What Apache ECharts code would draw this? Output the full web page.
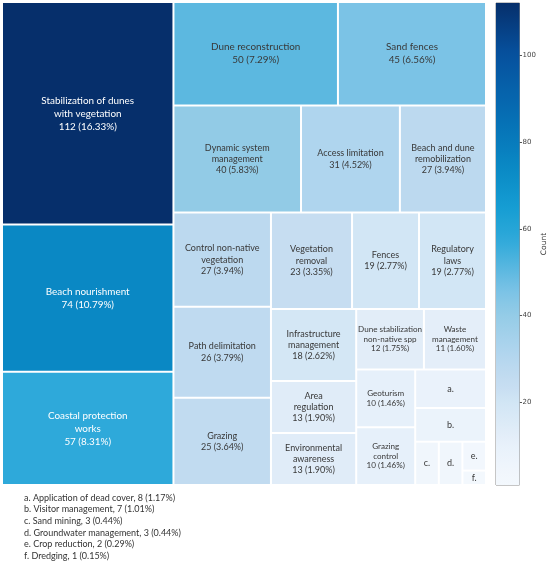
<!DOCTYPE html>
<html><head><meta charset="utf-8">
<script src="https://cdn.jsdelivr.net/npm/echarts@6/dist/echarts.min.js"></script>
<style>html,body{margin:0;padding:0;background:#fff}#c{width:550px;height:564px}</style>
</head><body><div id="c"></div>
<script>
// ---------- data ----------
const categories = [
  'Stabilization of dunes\nwith vegetation', 'Beach nourishment', 'Coastal protection\nworks',
  'Dune reconstruction', 'Sand fences',
  'Dynamic system\nmanagement', 'Access limitation', 'Beach and dune\nremobilization',
  'Control non-native\nvegetation', 'Vegetation\nremoval', 'Fences', 'Regulatory\nlaws',
  'Path delimitation', 'Grazing',
  'Infrastructure\nmanagement', 'Area\nregulation', 'Environmental\nawareness',
  'Dune stabilization\nnon-native spp', 'Waste\nmanagement',
  'Geoturism', 'Grazing\ncontrol',
  'Application of dead cover', 'Visitor management', 'Sand mining',
  'Groundwater management', 'Crop reduction', 'Dredging'
];
const counts = [112, 74, 57, 50, 45, 40, 31, 27, 27, 23, 19, 19, 26, 25, 18, 13, 13, 12, 11, 10, 10, 8, 7, 3, 3, 2, 1];
const percents = ['16.33', '10.79', '8.31', '7.29', '6.56', '5.83', '4.52', '3.94', '3.94', '3.35', '2.77', '2.77',
  '3.79', '3.64', '2.62', '1.90', '1.90', '1.75', '1.60', '1.46', '1.46', '1.17', '1.01', '0.44', '0.44', '0.29', '0.15'];
const footnoteKeys = ['a', 'b', 'c', 'd', 'e', 'f'];
const footnoteIndex = [21, 22, 23, 24, 25, 26];
const colorbarRange = [1, 112];
const colorbarTicks = [20, 40, 60, 80, 100];
// grouping of the tiles (indices into the arrays above)
const nesting = [0, 1, 2, 3, 4, 5, 6, 7,
  [[8, 12, 13],
   [[9, 10, 11], [14, 15, 16], [17, 18, [19, 20, [21, 22, [23, 24, [25, 26]]]]]]]];

// ---------- colour scale ----------
const colorStops = [
  [1, '#f3f8fd'], [8, '#eaf2fb'], [12, '#e2edf8'], [19, '#d2e6f5'], [23, '#c6ddf1'],
  [27, '#bcd9ef'], [31, '#afd5ee'], [40, '#92cbe6'], [45, '#7bc3e6'], [50, '#5cb8e0'],
  [57, '#2ea9da'], [65, '#149cd2'], [74, '#0a88c4'], [85, '#0670b5'],
  [100, '#06519e'], [112, '#062f6b']
];
function hex2rgb(h) { return [1, 3, 5].map(k => parseInt(h.substr(k, 2), 16)); }
function colorFor(v) {
  if (v <= colorStops[0][0]) return colorStops[0][1];
  for (let i = 1; i < colorStops.length; i++) {
    if (v <= colorStops[i][0]) {
      const [v0, c0] = colorStops[i - 1], [v1, c1] = colorStops[i];
      const t = (v - v0) / (v1 - v0);
      const a = hex2rgb(c0), b = hex2rgb(c1);
      return 'rgb(' + a.map((x, k) => Math.round(x + (b[k] - x) * t)).join(',') + ')';
    }
  }
  return colorStops[colorStops.length - 1][1];
}

const fontClasses = { large: [9.9, 13], medium: [9.0, 11.3], small: [8.1, 9.6], letter: [9.0, 11] };

function build(node) {
  if (Array.isArray(node)) {
    return { name: '', children: node.map(build),
      itemStyle: { borderWidth: 0, gapWidth: 0, borderColor: '#fff' } };
  }
  const i = node, v = counts[i];
  const fk = footnoteIndex.indexOf(i);
  const text = fk >= 0 ? footnoteKeys[fk] + '.' : categories[i] + '\n' + v + ' (' + percents[i] + '%)';
  const cls = fk >= 0 ? 'letter' : (v >= 45 ? 'large' : (v >= 13 ? 'medium' : 'small'));
  const fs = fontClasses[cls];
  return {
    name: categories[i].replace('\n', ' '), value: v,
    itemStyle: { color: colorFor(v), borderWidth: 1, borderColor: '#fff' },
    label: { formatter: text, fontSize: fs[0], lineHeight: fs[1], color: v >= 55 ? '#ffffff' : '#383838' }
  };
}
const treeData = nesting.map(build);

const footLines = footnoteIndex.map((i, k) =>
  footnoteKeys[k] + '. ' + categories[i] + ', ' + counts[i] + ' (' + percents[i] + '%)');

// colour bar gradient
const gradStops = [];
for (let s = 0; s <= 40; s++) {
  const t = s / 40;
  gradStops.push({ offset: t, color: colorFor(colorbarRange[1] * (1 - t)) });
}

const chart = echarts.init(document.getElementById('c'), null, { renderer: 'canvas' });
chart.setOption({
  animation: false,
  backgroundColor: '#ffffff',
  grid: { left: 496, top: 3, width: 23.5, height: 482, show: true, borderColor: '#8c8c8c', borderWidth: 1, backgroundColor: 'transparent' },
  xAxis: { type: 'category', data: ['Count'], show: false },
  yAxis: {
    type: 'value', min: colorbarRange[0], max: colorbarRange[1], position: 'right',
    splitLine: { show: false }, axisLine: { show: false },
    axisTick: { show: true, length: 2.5, customValues: colorbarTicks, lineStyle: { color: '#555' } },
    axisLabel: { customValues: colorbarTicks, fontSize: 7, color: '#444', margin: 3, fontFamily: 'DejaVu Sans' },
    name: 'Count', nameLocation: 'middle', nameGap: 20,
    nameTextStyle: { fontSize: 7.5, color: '#333', fontFamily: 'DejaVu Sans' }
  },
  graphic: [{
    type: 'text', left: 24, top: 492,
    style: { text: footLines.join('\n'), font: '9px Lato', fill: '#333', lineHeight: 11.6 }
  }],
  series: [
    {
      type: 'bar', data: [colorbarRange[1]], barWidth: '100%', silent: true, clip: true,
      itemStyle: { color: { type: 'linear', x: 0, y: 0, x2: 0, y2: 1, colorStops: gradStops } }
    },
    {
      type: 'treemap', left: 2, top: 2, width: 484, height: 483,
      roam: false, nodeClick: false, breadcrumb: { show: false },
      sort: false, squareRatio: 0.87, visibleMin: 0,
      itemStyle: { borderWidth: 0, gapWidth: 0, borderColor: '#fff' },
      label: { show: true, position: 'inside', align: 'center', verticalAlign: 'middle',
        padding: 0, overflow: 'none', fontFamily: 'Lato' },
      upperLabel: { show: false },
      data: treeData
    }
  ]
});
</script></body></html>
